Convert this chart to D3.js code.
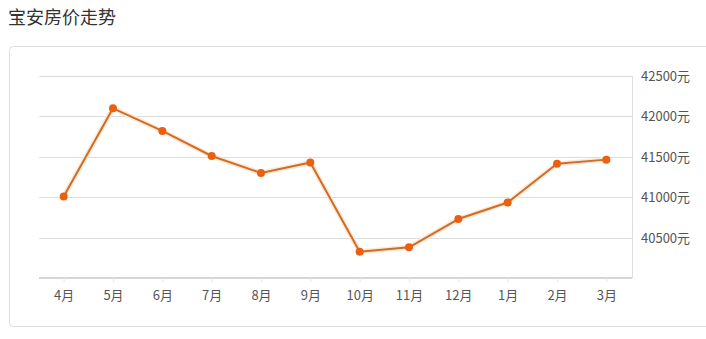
<!DOCTYPE html>
<html>
<head>
<meta charset="utf-8">
<script src="https://cdn.jsdelivr.net/npm/d3@7"></script>
<style>
  body { margin: 0; background: #fff; font-family: "Noto Sans CJK SC", "Noto Sans", sans-serif; }
</style>
</head>
<body>
<div id="chart"></div>
<script>
// data
var months = ["4月", "5月", "6月", "7月", "8月", "9月", "10月", "11月", "12月", "1月", "2月", "3月"];
var prices = [41010, 42100, 41820, 41510, 41300, 41430, 40325, 40380, 40730, 40935, 41415, 41465];
var yTicks = [40500, 41000, 41500, 42000, 42500];

var W = 706, H = 339;

var svg = d3.select("#chart").append("svg")
    .attr("width", W)
    .attr("height", H);

// title
svg.append("text")
    .attr("x", 8)
    .attr("y", 24)
    .attr("font-size", "18px")
    .attr("fill", "#333")
    .text("宝安房价走势");

// panel box
svg.append("rect")
    .attr("x", 9.5)
    .attr("y", 46.5)
    .attr("width", 720)
    .attr("height", 280)
    .attr("rx", 4)
    .attr("fill", "#fff")
    .attr("stroke", "#ddd");

var x = d3.scalePoint()
    .domain(months)
    .range([39, 631])
    .padding(0.5);

var y = d3.scaleLinear()
    .domain([40000, 42500])
    .range([278, 76]);

// grid lines
svg.append("g").selectAll("line")
    .data(yTicks)
    .enter().append("line")
    .attr("x1", 39)
    .attr("x2", 632)
    .attr("y1", d => Math.round(y(d)) + 0.5)
    .attr("y2", d => Math.round(y(d)) + 0.5)
    .attr("stroke", "#ddd");

// right border line
svg.append("line")
    .attr("x1", 632.5).attr("x2", 632.5)
    .attr("y1", y(42500)).attr("y2", 278)
    .attr("stroke", "#ddd");

// y labels on right
svg.append("g").selectAll("text")
    .data(yTicks)
    .enter().append("text")
    .attr("x", 641)
    .attr("y", d => y(d) + 5)
    .attr("font-size", "13px")
    .attr("fill", "#555")
    .text(d => d + "元");

// x axis
var xAxis = svg.append("g")
    .attr("transform", "translate(0,278)")
    .call(d3.axisBottom(x).tickSize(4).tickPadding(9));
xAxis.select(".domain").attr("stroke", "#d6d6d6").attr("stroke-width", 2)
    .attr("d", "M39,0H632");
xAxis.selectAll(".tick line").attr("stroke", "#e6e6e6");
xAxis.selectAll(".tick text")
    .attr("font-size", "13px")
    .attr("fill", "#555")
    .attr("font-family", "'Noto Sans CJK SC', sans-serif");

var line = d3.line()
    .x((d, i) => x(months[i]))
    .y(d => y(d));

// soft glow under the line
svg.append("path")
    .datum(prices)
    .attr("d", line)
    .attr("fill", "none")
    .attr("stroke", "#fde9d8")
    .attr("stroke-width", 5)
    .attr("stroke-linejoin", "round");

svg.append("path")
    .datum(prices)
    .attr("d", line)
    .attr("fill", "none")
    .attr("stroke", "#cf6d24")
    .attr("stroke-width", 2)
    .attr("stroke-linejoin", "round");

svg.append("g").selectAll("circle")
    .data(prices)
    .enter().append("circle")
    .attr("cx", (d, i) => x(months[i]))
    .attr("cy", d => y(d))
    .attr("r", 4)
    .attr("fill", "#ea6010");
</script>
</body>
</html>
